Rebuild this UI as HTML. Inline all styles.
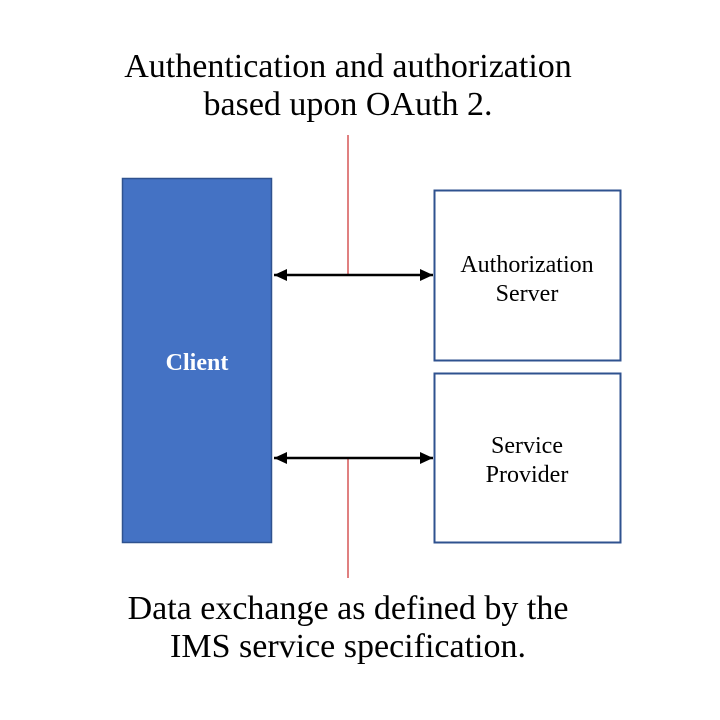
<!DOCTYPE html>
<html><head><style>
body{margin:0;width:720px;height:720px;background:#fff;position:relative;font-family:"Liberation Serif",serif;overflow:hidden}
.t{position:absolute;left:0;width:696px;text-align:center;font-size:34px;line-height:38px;color:#000}
</style></head><body>
<div class="t" style="top:48px">Authentication and authorization<br>based upon OAuth 2.</div>
<div class="t" style="top:590px">Data exchange as defined by the<br>IMS service specification.</div>
<svg width="720" height="720" style="position:absolute;left:0;top:0">
<defs><marker id="a" markerWidth="14" markerHeight="14" refX="13" refY="6" orient="auto-start-reverse" markerUnits="userSpaceOnUse"><path d="M0,0 L13,6 L0,12 z" fill="#000"/></marker></defs>
<line x1="348" y1="135" x2="348" y2="275" stroke="#c00000" stroke-width="1"/>
<line x1="348" y1="458" x2="348" y2="578" stroke="#c00000" stroke-width="1"/>
<rect x="122.5" y="178.5" width="149" height="364" fill="#4472c4" stroke="#2f528f" stroke-width="1.5"/>
<rect x="434.5" y="190.5" width="186" height="170" fill="#fff" stroke="#2f528f" stroke-width="2"/>
<rect x="434.5" y="373.5" width="186" height="169" fill="#fff" stroke="#2f528f" stroke-width="2"/>
<line x1="274" y1="275" x2="433" y2="275" stroke="#000" stroke-width="2.5" marker-start="url(#a)" marker-end="url(#a)"/>
<line x1="274" y1="458" x2="433" y2="458" stroke="#000" stroke-width="2.5" marker-start="url(#a)" marker-end="url(#a)"/>
<text x="197" y="370" fill="#fff" font-size="24" font-weight="bold" text-anchor="middle" font-family="Liberation Serif,serif">Client</text>
<g font-size="24" text-anchor="middle" font-family="Liberation Serif,serif" fill="#000">
<text x="527" y="272">Authorization</text><text x="527" y="301">Server</text>
<text x="527" y="453">Service</text><text x="527" y="482">Provider</text>
</g>
</svg>
</body></html>
